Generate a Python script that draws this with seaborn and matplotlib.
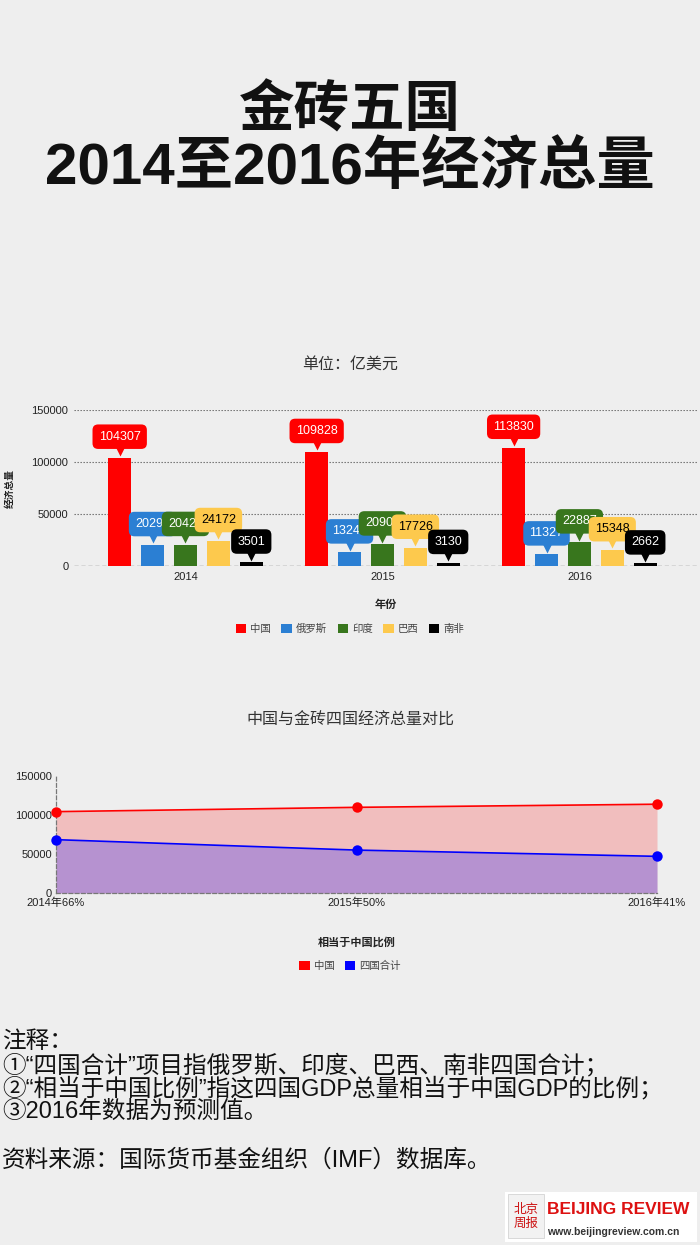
import numpy as np
import pandas as pd
import matplotlib
matplotlib.use('Agg')
import matplotlib.pyplot as plt
import seaborn as sns
from matplotlib.patches import Rectangle
from matplotlib.transforms import offset_copy

# ---------------- data ----------------
years = ['2014', '2015', '2016']
countries = ['中国', '俄罗斯', '印度', '巴西', '南非']
china = [104307, 109828, 113830]
russia = [20296, 13247, 11327]
india = [20428, 20907, 22887]
brazil = [24172, 17726, 15348]
south_africa = [3501, 3130, 2662]

line_labels = ['2014年66%', '2015年50%', '2016年41%']
line_series = ['中国', '四国合计']
china_line = [104307, 109828, 113830]
four_total = [68397, 55010, 47000]

yticks = [0, 50000, 100000, 150000]

colors = ['#ff0000', '#2b7fd3', '#38761d', '#fdc94d', '#000000']
text_colors = ['white', 'white', 'white', 'black', 'white']

# ---------------- style ----------------
sns.set_theme(style='white')
plt.rcParams['font.family'] = ['Liberation Sans', 'Noto Sans CJK SC', 'DejaVu Sans']
CJK = ['Noto Sans CJK SC', 'DejaVu Sans']
MIX = ['Liberation Sans', 'Noto Sans CJK SC', 'DejaVu Sans']
BG = '#eeeeee'
H = 1245.0
W = 700.0

fig = plt.figure(figsize=(7, 12.45), dpi=100, facecolor=BG)

def fy(py):
    return 1 - py / H

fig.text(0.5, fy(111), '金砖五国', ha='center', va='center', fontsize=40,
         fontweight='bold', family=CJK, color='#111111')
fig.text(0.5, fy(168), '2014至2016年经济总量', ha='center', va='center', fontsize=42,
         fontweight='bold', family=MIX, color='#111111')
fig.text(0.5, fy(364), '单位：亿美元', ha='center', va='center', fontsize=11.5,
         family=CJK, color='#333333')

# ---------------- bar chart ----------------
df = pd.DataFrame({'中国': china, '俄罗斯': russia, '印度': india,
                   '巴西': brazil, '南非': south_africa}, index=years)
df = df.reset_index(names='年份').melt(id_vars='年份', var_name='国家', value_name='经济总量')

ax1 = fig.add_axes([74 / W, fy(566), 623 / W, 156 / H])
ax1.set_facecolor('none')
for yv in yticks[1:]:
    ax1.axhline(yv, color='#666666', ls=(0, (1.2, 1.5)), lw=0.8, zorder=0)
ax1.axhline(0, color='#777777', ls=(0, (3, 2)), lw=1.0, zorder=0)
sns.barplot(data=df, x='年份', y='经济总量', hue='国家', hue_order=countries,
            palette=colors, width=0.835, gap=0.3, saturation=1, ax=ax1,
            legend=False, edgecolor='none', zorder=2)
ax1.set_xlim(-0.566, 2.597)
ax1.set_ylim(0, 150000)
ax1.set_yticks(yticks)
ax1.set_yticklabels([str(v) for v in yticks])
ax1.tick_params(axis='both', labelsize=8, length=0, colors='#222222', pad=4)
for s in ax1.spines.values():
    s.set_visible(False)
ax1.set_xlabel('年份', fontsize=8, fontweight='bold', family=CJK, labelpad=12, color='#222222')
ax1.set_ylabel('经济总量', fontsize=7, fontweight='bold', family=CJK, color='#222222')
ax1.yaxis.set_label_coords(-0.095, 0.5)

tri_tr = offset_copy(ax1.transData, fig=fig, y=5.5, units='points')
for i, cont in enumerate(ax1.containers):
    for bar in cont:
        x = bar.get_x() + bar.get_width() / 2
        h = bar.get_height()
        ax1.plot([x], [h], marker='v', ms=9, color=colors[i], transform=tri_tr,
                 clip_on=False, zorder=6 + 2 * i, mec='none')
        ax1.annotate(f'{int(round(h))}', xy=(x, h), xytext=(0, 15),
                     textcoords='offset points', ha='center', va='center',
                     fontsize=9, color=text_colors[i], zorder=7 + 2 * i,
                     bbox=dict(boxstyle='round,pad=0.5,rounding_size=0.45',
                               fc=colors[i], ec='none'),
                     annotation_clip=False)

handles1 = [Rectangle((0, 0), 1, 1, fc=c, ec='none') for c in colors]
fig.legend(handles1, countries, loc='center', bbox_to_anchor=(0.5, fy(629)),
           ncol=5, frameon=False, handlelength=1.0, handleheight=1.0,
           handletextpad=0.4, columnspacing=1.0, labelcolor='#444444',
           prop={'family': CJK, 'size': 7.5})

# ---------------- line / area chart ----------------
fig.text(0.5, fy(720), '中国与金砖四国经济总量对比', ha='center', va='center',
         fontsize=11.5, family=CJK, color='#333333')

df2 = pd.DataFrame({'比例': line_labels * 2,
                    '系列': [line_series[0]] * 3 + [line_series[1]] * 3,
                    '值': china_line + four_total})

ax2 = fig.add_axes([56 / W, fy(893), 601 / W, 117 / H])
ax2.set_facecolor('none')
pos = np.arange(len(line_labels))
ax2.fill_between(pos, china_line, color='#ff0000', alpha=0.2, lw=0, zorder=1)
ax2.fill_between(pos, four_total, color='#2020ff', alpha=0.28, lw=0, zorder=1)
sns.lineplot(data=df2, x='比例', y='值', hue='系列', hue_order=line_series,
             palette=['#ff0000', '#0000ff'], marker='o', markersize=7.5,
             markeredgewidth=0, lw=1.2, ax=ax2, legend=False, sort=False, zorder=3)
for ln in ax2.lines:
    ln.set_clip_on(False)
ax2.set_xlim(0, 2)
ax2.set_ylim(0, 150000)
ax2.set_yticks(yticks)
ax2.set_yticklabels([str(v) for v in yticks])
ax2.set_xticks(pos)
ax2.set_xticklabels(line_labels)
ax2.tick_params(axis='both', labelsize=8, length=0, colors='#222222', pad=3)
for k in ['top', 'right']:
    ax2.spines[k].set_visible(False)
for k in ['left', 'bottom']:
    ax2.spines[k].set_visible(True)
    ax2.spines[k].set_color('#777777')
    ax2.spines[k].set_linestyle((0, (3, 2)))
    ax2.spines[k].set_linewidth(0.9)
ax2.set_xlabel('相当于中国比例', fontsize=8, fontweight='bold', family=CJK,
               labelpad=20, color='#222222')
ax2.set_ylabel('')

handles2 = [Rectangle((0, 0), 1, 1, fc=c, ec='none') for c in ['#ff0000', '#0000ff']]
fig.legend(handles2, line_series, loc='center', bbox_to_anchor=(0.5, fy(966)),
           ncol=2, frameon=False, handlelength=1.0, handleheight=1.0,
           handletextpad=0.4, columnspacing=1.0, labelcolor='#444444',
           prop={'family': CJK, 'size': 7.5})

# ---------------- notes ----------------
notes = ['注释：',
         '①“四国合计”项目指俄罗斯、印度、巴西、南非四国合计；',
         '②“相当于中国比例”指这四国GDP总量相当于中国GDP的比例；',
         '③2016年数据为预测值。']
note_y = [1042, 1066, 1089, 1112]
for t, yy in zip(notes, note_y):
    fig.text(2 / W, fy(yy), t, ha='left', va='center', fontsize=17,
             family=MIX, color='#111111')
fig.text(2 / W, fy(1160), '资料来源：国际货币基金组织（IMF）数据库。', ha='left', va='center',
         fontsize=17, family=MIX, color='#111111')

# ---------------- logo ----------------
fig.patches.append(Rectangle((505 / W, fy(1242)), 192 / W, 50 / H, transform=fig.transFigure,
                             fc='white', ec='none', zorder=0))
fig.patches.append(Rectangle((508 / W, fy(1238)), 36 / W, 44 / H, transform=fig.transFigure,
                             fc='#f2f2f2', ec='#cccccc', lw=0.5, zorder=1))
fig.text(526 / W, fy(1216), '北京\n周报', ha='center', va='center', fontsize=9,
         family=CJK, color='#cc1111', linespacing=1.1)
fig.text(547 / W, fy(1210), 'BEIJING REVIEW', ha='left', va='center', fontsize=12.5,
         fontweight='bold', family=['Liberation Sans'], color='#dd1111')
fig.text(547 / W, fy(1232), 'www.beijingreview.com.cn', ha='left', va='center',
         fontsize=7.5, fontweight='bold', family=['Liberation Sans'],
         color='#333333')

fig.savefig('out.png', dpi=100, facecolor=BG)
